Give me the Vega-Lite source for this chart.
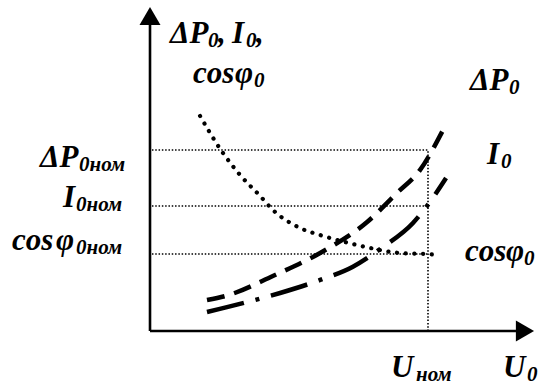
{
  "$schema": "https://vega.github.io/schema/vega-lite/v6.json",
  "autosize": {"type": "fit", "contains": "padding"},
  "width": 540,
  "height": 389,
  "padding": 0,
  "background": "white",
  "config": {"view": {"stroke": null}},
  "datasets": {
    "curves": [
      {"s": "dP", "u": 0.205, "v": 0.171},
      {"s": "dP", "u": 0.277, "v": 0.196},
      {"s": "dP", "u": 0.442, "v": 0.304},
      {"s": "dP", "u": 0.612, "v": 0.431},
      {"s": "dP", "u": 0.781, "v": 0.602},
      {"s": "dP", "u": 0.888, "v": 0.762},
      {"s": "dP", "u": 0.971, "v": 0.889},
      {"s": "dP", "u": 1.054, "v": 1.110},
      {"s": "I", "u": 0.205, "v": 0.105},
      {"s": "I", "u": 0.349, "v": 0.160},
      {"s": "I", "u": 0.468, "v": 0.210},
      {"s": "I", "u": 0.612, "v": 0.282},
      {"s": "I", "u": 0.730, "v": 0.355},
      {"s": "I", "u": 0.838, "v": 0.464},
      {"s": "I", "u": 0.946, "v": 0.597},
      {"s": "I", "u": 0.996, "v": 0.690},
      {"s": "I", "u": 1.065, "v": 0.845},
      {"s": "cos", "u": 0.180, "v": 1.188},
      {"s": "cos", "u": 0.255, "v": 1.0},
      {"s": "cos", "u": 0.324, "v": 0.862},
      {"s": "cos", "u": 0.396, "v": 0.746},
      {"s": "cos", "u": 0.442, "v": 0.669},
      {"s": "cos", "u": 0.540, "v": 0.569},
      {"s": "cos", "u": 0.612, "v": 0.530},
      {"s": "cos", "u": 0.701, "v": 0.492},
      {"s": "cos", "u": 0.791, "v": 0.459},
      {"s": "cos", "u": 0.899, "v": 0.431},
      {"s": "cos", "u": 1.0, "v": 0.425},
      {"s": "cos", "u": 1.032, "v": 0.420}
    ],
    "refs": [
      {"u": 0.007, "u2": 1.0, "v": 1.0, "v2": 1.0},
      {"u": 0.007, "u2": 1.0, "v": 0.6906, "v2": 0.6906},
      {"u": 0.007, "u2": 1.0, "v": 0.4254, "v2": 0.4254},
      {"u": 1.0, "u2": 1.0, "v": 0.0, "v2": 1.0}
    ],
    "axes": [
      {"u": 0.0, "u2": 0.0, "v": 0.0, "v2": 1.6906},
      {"u": 0.0, "u2": 1.3165, "v": 0.0, "v2": 0.0}
    ],
    "arrows": [
      {"u": 0.0, "v": 1.7403, "shape": "triangle-up"},
      {"u": 1.3489, "v": 0.0, "shape": "triangle-right"}
    ],
    "main": [
      {"t": "ΔP", "u": 0.0719, "v": 1.5912},
      {"t": ",", "u": 0.2446, "v": 1.5912},
      {"t": "I", "u": 0.2950, "v": 1.5912},
      {"t": ",", "u": 0.3813, "v": 1.5912},
      {"t": "cos", "u": 0.1547, "v": 1.3702},
      {"t": "φ", "u": 0.3058, "v": 1.3702},
      {"t": "ΔP", "u": -0.3957, "v": 0.9061},
      {"t": "I", "u": -0.3129, "v": 0.6851},
      {"t": "cos", "u": -0.4964, "v": 0.4475},
      {"t": "φ", "u": -0.3381, "v": 0.4475},
      {"t": "ΔP", "u": 1.1511, "v": 1.3315},
      {"t": "I", "u": 1.2122, "v": 0.9227},
      {"t": "cos", "u": 1.1331, "v": 0.3867},
      {"t": "φ", "u": 1.2806, "v": 0.3867},
      {"t": "U", "u": 0.8669, "v": -0.2541},
      {"t": "U", "u": 1.2698, "v": -0.2541}
    ],
    "sub": [
      {"t": "0", "u": 0.2086, "v": 1.5691},
      {"t": "0", "u": 0.3453, "v": 1.5691},
      {"t": "0", "u": 0.3741, "v": 1.3481},
      {"t": "0ном", "u": -0.2554, "v": 0.8840},
      {"t": "0ном", "u": -0.2662, "v": 0.6630},
      {"t": "0ном", "u": -0.2662, "v": 0.4254},
      {"t": "0", "u": 1.2914, "v": 1.3094},
      {"t": "0", "u": 1.2626, "v": 0.9006},
      {"t": "0", "u": 1.3453, "v": 0.3646},
      {"t": "ном", "u": 0.9568, "v": -0.2762},
      {"t": "0", "u": 1.3561, "v": -0.2762}
    ]
  },
  "encoding": {
    "x": {"field": "u", "type": "quantitative", "scale": {"domain": [-0.5396, 1.4029], "nice": false, "zero": false}, "axis": null},
    "y": {"field": "v", "type": "quantitative", "scale": {"domain": [-0.3204, 1.8287], "nice": false, "zero": false}, "axis": null}
  },
  "layer": [
    {
      "data": {"name": "refs"},
      "mark": {"type": "rule", "color": "black", "strokeWidth": 1.6, "strokeDash": [1.5, 1.8]},
      "encoding": {"x2": {"field": "u2"}, "y2": {"field": "v2"}}
    },
    {
      "data": {"name": "axes"},
      "mark": {"type": "rule", "color": "black", "strokeWidth": 2.6},
      "encoding": {"x2": {"field": "u2"}, "y2": {"field": "v2"}}
    },
    {
      "data": {"name": "arrows"},
      "mark": {"type": "point", "filled": true, "color": "black", "opacity": 1, "size": 440},
      "encoding": {"shape": {"field": "shape", "type": "nominal", "scale": null, "legend": null}}
    },
    {
      "data": {"name": "curves"},
      "transform": [{"filter": "datum.s === 'cos'"}],
      "mark": {"type": "line", "color": "black", "strokeWidth": 4.2, "strokeCap": "round", "strokeDash": [0.1, 8.6], "interpolate": "monotone"}
    },
    {
      "data": {"name": "curves"},
      "transform": [{"filter": "datum.s === 'dP'"}],
      "mark": {"type": "line", "color": "black", "strokeWidth": 4.5, "strokeCap": "butt", "strokeDash": [18, 10], "interpolate": "monotone"}
    },
    {
      "data": {"name": "curves"},
      "transform": [{"filter": "datum.s === 'I'"}],
      "mark": {"type": "line", "color": "black", "strokeWidth": 4.5, "strokeCap": "butt", "strokeDash": [38, 12, 4, 12], "interpolate": "monotone"}
    },
    {
      "data": {"name": "main"},
      "mark": {"type": "text", "align": "left", "baseline": "alphabetic", "font": "Liberation Serif", "fontWeight": "bold", "fontStyle": "italic", "fontSize": 31, "color": "black"},
      "encoding": {"text": {"field": "t"}}
    },
    {
      "data": {"name": "sub"},
      "mark": {"type": "text", "align": "left", "baseline": "alphabetic", "font": "Liberation Serif", "fontWeight": "bold", "fontStyle": "italic", "fontSize": 21, "color": "black"},
      "encoding": {"text": {"field": "t"}}
    }
  ]
}
